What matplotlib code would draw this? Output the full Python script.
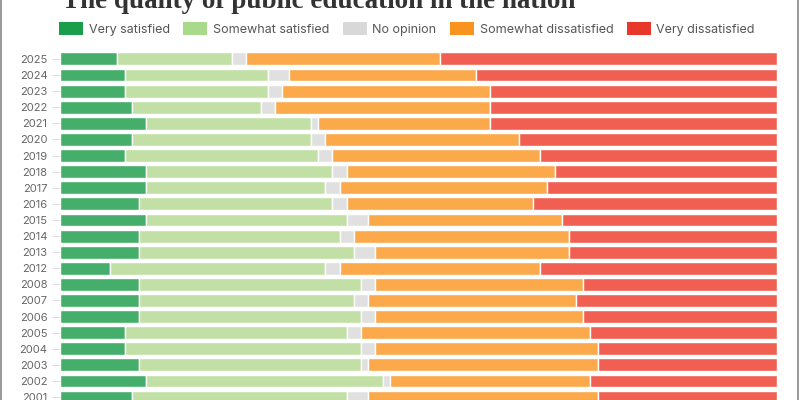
import matplotlib.pyplot as plt
from matplotlib.patches import Patch, Rectangle

plt.rcParams['font.family'] = ['Inter', 'DejaVu Sans']

years = [2025, 2024, 2023, 2022, 2021, 2020, 2019, 2018, 2017, 2016, 2015,
         2014, 2013, 2012, 2008, 2007, 2006, 2005, 2004, 2003, 2002, 2001]
very_sat = [8, 9, 9, 10, 12, 10, 9, 12, 12, 11, 12, 11, 11, 7, 11, 11, 11, 9, 9, 11, 12, 10]
somewhat_sat = [16, 20, 20, 18, 23, 25, 27, 26, 25, 27, 28, 28, 30, 30, 31, 30, 31, 31, 33, 31, 33, 30]
no_opinion = [2, 3, 2, 2, 1, 2, 2, 2, 2, 2, 3, 2, 3, 2, 2, 2, 2, 2, 2, 1, 1, 3]
somewhat_dis = [27, 26, 29, 30, 24, 27, 29, 29, 29, 26, 27, 30, 27, 28, 29, 29, 29, 32, 31, 32, 28, 32]
very_dis = [47, 42, 40, 40, 40, 36, 33, 31, 32, 34, 30, 29, 29, 33, 27, 28, 27, 26, 25, 25, 26, 25]

labels = ['Very satisfied', 'Somewhat satisfied', 'No opinion',
          'Somewhat dissatisfied', 'Very dissatisfied']
bar_colors = ['#45ae6b', '#c2e0a5', '#e0e0e0', '#fba94b', '#f15f52']
legend_colors = ['#1b9e4b', '#a9d98b', '#d8d8d8', '#f7931e', '#e8372b']
series = [very_sat, somewhat_sat, no_opinion, somewhat_dis, very_dis]

fig = plt.figure(figsize=(8, 4), dpi=100)
ax = fig.add_axes([0.075, 0.0, 0.896, 1.0])

ypos = list(range(len(years)))
left = [0] * len(years)
for vals, col in zip(series, bar_colors):
    ax.barh(ypos, vals, left=left, height=0.8, color=col,
            edgecolor='white', linewidth=1.0)
    left = [l + v for l, v in zip(left, vals)]

ax.set_xlim(0, 100)
ax.set_ylim(21.18, -3.66)
ax.set_yticks(ypos)
ax.set_yticklabels([str(y) for y in years], fontsize=8, color='#666666')
ax.tick_params(axis='y', length=6, width=0.8, color='#dddddd', pad=3)
ax.set_xticks([])
for s in ax.spines.values():
    s.set_visible(False)

# title (cropped at the top in the reference)
fig.text(0.077, 0.981, 'The quality of public education in the nation',
         family=['Liberation Serif', 'DejaVu Serif'], fontweight='bold',
         fontsize=19.5, color='#333333', ha='left', va='baseline')

handles = [Patch(facecolor=c, edgecolor='none') for c in legend_colors]
fig.legend(handles, labels, loc='center left', bbox_to_anchor=(0.074, 0.928),
           ncol=5, frameon=False, fontsize=9, labelcolor='#555555',
           handlelength=1.9, handleheight=1.2, handletextpad=0.45,
           columnspacing=1.1, borderaxespad=0, borderpad=0)

# thin frame around the image
fig.patches.append(Rectangle((0.001, -0.01), 0.997, 1.02, transform=fig.transFigure,
                             fill=False, edgecolor='#888888', linewidth=1.2))

fig.savefig('out.png', dpi=100)
